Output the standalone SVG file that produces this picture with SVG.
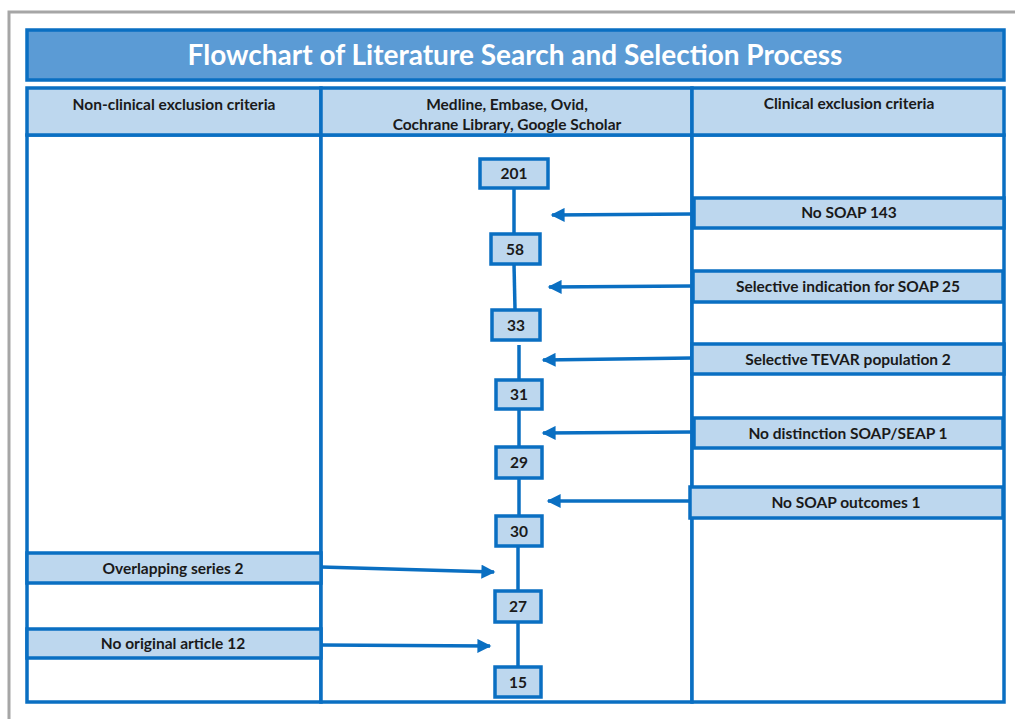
<svg xmlns="http://www.w3.org/2000/svg" width="1015" height="719" viewBox="0 0 1015 719">
<style>
.ln{stroke:#0a6fc2;stroke-width:3.5;fill:none}
.cell{fill:#fff;stroke:#0a6fc2;stroke-width:3.5}
.hd{fill:#bdd7ee;stroke:#0a6fc2;stroke-width:3.5}
.box{fill:#bdd7ee;stroke:#0a6fc2;stroke-width:3.5}
.t{font-family:Lato,"Open Sans",sans-serif;font-weight:bold;font-size:15.5px;fill:#1a1a1a;text-anchor:middle}
.title{font-family:Lato,"Open Sans",sans-serif;font-weight:bold;font-size:28px;fill:#fff;text-anchor:middle}
</style>
<defs>
<marker id="ah" viewBox="0 0 10 10" refX="9" refY="5" markerWidth="4.4" markerHeight="4" orient="auto" markerUnits="strokeWidth">
<path d="M0,0 L10,5 L0,10 Z" fill="#0a6fc2"/>
</marker>
</defs>
<rect width="1015" height="719" fill="#fff"/>
<path d="M9,719 V12 H1015" stroke="#a6a6a6" stroke-width="3" fill="none"/>
<g id="title">
<rect x="27" y="30" width="977" height="50" fill="#5b9bd5" stroke="#0a6fc2" stroke-width="3.5"/>
<text class="title" x="515" y="65">Flowchart of Literature Search and Selection Process</text>
</g>
<g id="table">
<rect class="cell" x="27" y="135" width="294" height="567"/>
<rect class="cell" x="321" y="135" width="371" height="567"/>
<rect class="cell" x="692" y="135" width="312" height="567"/>
</g>
<g id="hdr-left"><rect class="hd" x="27" y="88" width="294" height="47"/><text class="t" x="174" y="110">Non-clinical exclusion criteria</text></g>
<g id="hdr-mid"><rect class="hd" x="321" y="88" width="371" height="47"/><text class="t" x="507" y="110">Medline, Embase, Ovid,</text><text class="t" x="507" y="130">Cochrane Library, Google Scholar</text></g>
<g id="hdr-right"><rect class="hd" x="692" y="88" width="312" height="47"/><text class="t" x="849" y="109">Clinical exclusion criteria</text></g>
<g id="connectors">
<line class="ln" x1="514" y1="188" x2="514" y2="233"/>
<line class="ln" x1="514" y1="264" x2="515" y2="309"/>
<line class="ln" x1="519" y1="345" x2="519" y2="380"/>
<line class="ln" x1="519" y1="409" x2="519" y2="447"/>
<line class="ln" x1="519" y1="478" x2="519" y2="516"/>
<line class="ln" x1="518" y1="546" x2="518" y2="590"/>
<line class="ln" x1="518" y1="622" x2="518" y2="667"/>
<line class="ln" x1="692" y1="214" x2="552" y2="215" marker-end="url(#ah)"/>
<line class="ln" x1="692" y1="286" x2="549" y2="287" marker-end="url(#ah)"/>
<line class="ln" x1="692" y1="358" x2="543" y2="360" marker-end="url(#ah)"/>
<line class="ln" x1="692" y1="432" x2="543" y2="433" marker-end="url(#ah)"/>
<line class="ln" x1="692" y1="501" x2="548" y2="501" marker-end="url(#ah)"/>
<line class="ln" x1="321" y1="567" x2="494" y2="572" marker-end="url(#ah)"/>
<line class="ln" x1="321" y1="645" x2="490" y2="646" marker-end="url(#ah)"/>
</g>
<g id="r1"><rect class="box" x="694" y="198" width="310" height="30"/><text class="t" x="849" y="218">No SOAP 143</text></g>
<g id="r2"><rect class="box" x="693" y="271" width="310" height="31"/><text class="t" x="848" y="292">Selective indication for SOAP 25</text></g>
<g id="r3"><rect class="box" x="692" y="344" width="312" height="30"/><text class="t" x="848" y="365">Selective TEVAR population 2</text></g>
<g id="r4"><rect class="box" x="694" y="418" width="309" height="30"/><text class="t" x="848" y="439">No distinction SOAP/SEAP 1</text></g>
<g id="r5"><rect class="box" x="690" y="487" width="313" height="31"/><text class="t" x="846" y="508">No SOAP outcomes 1</text></g>
<g id="l1"><rect class="box" x="27" y="553" width="294" height="30"/><text class="t" x="173" y="574">Overlapping series 2</text></g>
<g id="l2"><rect class="box" x="27" y="629" width="294" height="29"/><text class="t" x="173" y="649">No original article 12</text></g>
<g id="n201"><rect class="box" x="480" y="159" width="68" height="29"/><text class="t" x="514" y="179">201</text></g>
<g id="n58"><rect class="box" x="491" y="234" width="49" height="30"/><text class="t" x="515" y="255">58</text></g>
<g id="n33"><rect class="box" x="492" y="310" width="48" height="30"/><text class="t" x="516" y="331">33</text></g>
<g id="n31"><rect class="box" x="496" y="380" width="46" height="29"/><text class="t" x="519" y="400">31</text></g>
<g id="n29"><rect class="box" x="496" y="447" width="46" height="31"/><text class="t" x="519" y="468">29</text></g>
<g id="n30"><rect class="box" x="496" y="516" width="46" height="30"/><text class="t" x="519" y="537">30</text></g>
<g id="n27"><rect class="box" x="495" y="591" width="46" height="31"/><text class="t" x="518" y="612">27</text></g>
<g id="n15"><rect class="box" x="495" y="667" width="46" height="30"/><text class="t" x="518" y="688">15</text></g>
</svg>
